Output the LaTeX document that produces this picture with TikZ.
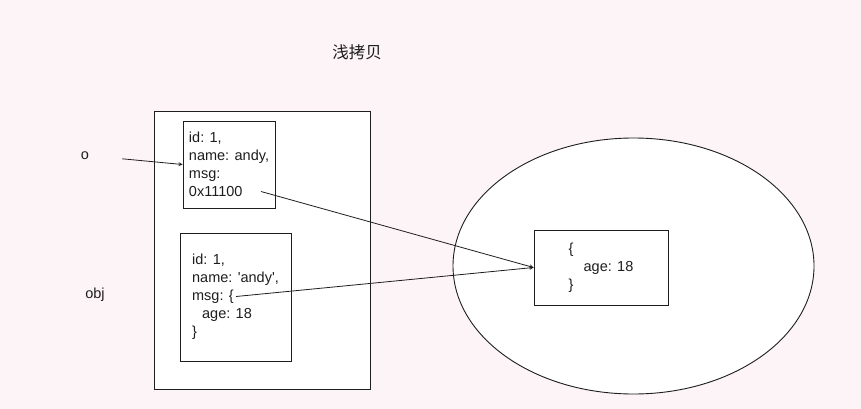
\documentclass[tikz,border=0pt]{standalone}
\usepackage{fontspec}
\setmainfont{Liberation Sans}
\newfontfamily\cjk{Noto Sans CJK SC}
\usepackage{tikz}
\usetikzlibrary{shapes.geometric, arrows}
\definecolor{paper}{RGB}{253,244,248}
\definecolor{ink}{RGB}{30,30,30}
\tikzstyle{area} = [rectangle, draw=ink, line width=0.9pt, fill=white]
\tikzstyle{obj} = [rectangle, draw=ink, line width=0.9pt, fill=white, align=left, text=ink, font=\fontsize{14.5}{18}\selectfont]
\tikzstyle{label} = [text=ink, font=\fontsize{14.5}{18}\selectfont]
\tikzstyle{arrow} = [draw=ink, line width=0.8pt, ->, >=stealth]
\begin{document}
\begin{tikzpicture}[x=1pt, y=-1pt]
        \fill [paper] (0,0) rectangle (861,409);
        \useasboundingbox (0,0) rectangle (861,409);
        \node (title) [label, font=\cjk\fontsize{16.5}{18}\selectfont] at (357,52) {浅拷贝};
        \node (stack) [area, minimum width=216pt, minimum height=278pt] at (262,250) {};
        \node (heap) [ellipse, draw=ink, line width=0.9pt, fill=white, minimum width=361pt, minimum height=256pt] at (633.5,266) {};
        \node (o) [label] at (85,156) {o};
        \node (objlabel) [label] at (95,295) {obj};
        \node (copy) [obj, minimum width=92pt, minimum height=87pt] at (229,164.5) {id: 1,\\name: andy,\\msg:\\0x11100};
        \node (orig) [obj, minimum width=111pt, minimum height=128pt] at (235.5,297) {id: 1,\\name: \textquotesingle andy\textquotesingle,\\msg: \{\\\hspace*{10pt}age: 18\\\}};
        \node (msg) [obj, minimum width=134pt, minimum height=75pt] at (601,267.5) {\{\\\hspace*{15pt}age: 18\\\}};
        \coordinate (ptr) at (261,191.5);
        \coordinate (ref) at (236,296.5);
        \draw [arrow, shorten <=30pt] (o.east) -- (copy.west);
        \draw [arrow] (ptr) -- (msg.west);
        \draw [arrow] (ref) -- (msg.west);
    \end{tikzpicture}
\end{document}
